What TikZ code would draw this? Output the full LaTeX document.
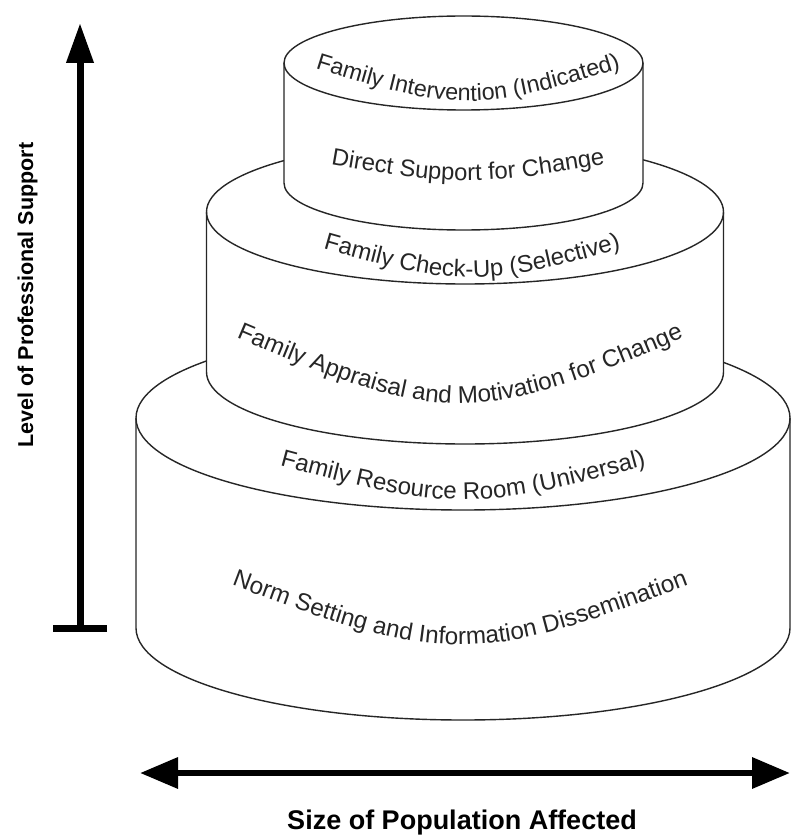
\documentclass[tikz,border=0pt]{standalone}
\usepackage{fontspec}
\setmainfont{Liberation Sans}
\usetikzlibrary{arrows.meta,decorations.text}
\begin{document}
\begin{tikzpicture}[x=1pt,y=1pt,
  cyl/.style={draw=black!85, line width=1.4pt},
  ctext/.style 2 args={decorate, decoration={text along path, text align=center,
      text={|\fontsize{#1}{#1}\selectfont\color{black!85}|#2}}},
  axisline/.style={line width=7pt, black},
  lab/.style={font=\bfseries, text=black, inner sep=0pt}
]
\useasboundingbox (0,0) rectangle (791,-837);

% bottom cylinder
\fill[white] (136,-418) arc[start angle=180,end angle=0,x radius=327,y radius=92]
  -- (790,-628) arc[start angle=0,end angle=-180,x radius=327,y radius=92] -- cycle;
\draw[cyl] (463,-418) ellipse[x radius=327,y radius=92];
\draw[cyl] (136,-418) -- (136,-628) arc[start angle=180,end angle=360,x radius=327,y radius=92] -- (790,-418);

% middle cylinder
\fill[white] (206.5,-212) arc[start angle=180,end angle=0,x radius=258.5,y radius=72]
  -- (723.5,-372) arc[start angle=0,end angle=-180,x radius=258.5,y radius=72] -- cycle;
\draw[cyl] (465,-212) ellipse[x radius=258.5,y radius=72];
\draw[cyl] (206.5,-212) -- (206.5,-372) arc[start angle=180,end angle=360,x radius=258.5,y radius=72] -- (723.5,-212);

% top cylinder
\fill[white] (284,-63) arc[start angle=180,end angle=0,x radius=179.5,y radius=47]
  -- (643,-183) arc[start angle=0,end angle=-180,x radius=179.5,y radius=47] -- cycle;
\draw[cyl] (463.5,-63) ellipse[x radius=179.5,y radius=47];
\draw[cyl] (284,-63) -- (284,-183) arc[start angle=180,end angle=360,x radius=179.5,y radius=47] -- (643,-63);

% curved texts
\path[ctext={23.3}{Family Intervention (Indicated)}] (268,-53) .. controls (468,-117) .. (668,-53);
\path[ctext={23.8}{Direct Support for Change}] (278,-155) .. controls (468,-189) .. (658,-155);
\path[ctext={24}{Family Check-Up (Selective)}] (272,-234) .. controls (472,-292) .. (672,-234);
\path[ctext={24.2}{Family Appraisal and Motivation for Change}] (170,-309) .. controls (460,-435) .. (750,-309);
\path[ctext={24}{Family Resource Room (Universal)}] (223,-450) .. controls (463,-516) .. (703,-450);
\path[ctext={24.2}{Norm Setting and Information Dissemination}] (170,-561.5) .. controls (460,-672.5) .. (750,-561.5);

% vertical axis
\coordinate (vtop) at (80,-23);
\coordinate (vbot) at (80,-632);
\draw[axisline, {Bar[width=54pt]}-{Triangle[length=40pt,width=26pt]}] (vbot) -- (vtop);
\node[lab, font=\fontsize{21.5}{24}\selectfont\bfseries, rotate=90, anchor=base] (vlab) at (33,-295) {Level of Professional Support};

% horizontal axis
\coordinate (hl) at (140,-773);
\coordinate (hr) at (790,-773);
\draw[axisline, line width=6.5pt, {Triangle[length=38pt,width=30pt]}-{Triangle[length=38pt,width=30pt]}] (hl) -- (hr);
\node[lab, font=\fontsize{27}{30}\selectfont\bfseries, anchor=base] (hlab) at (462,-829) {Size of Population Affected};
\end{tikzpicture}
\end{document}
